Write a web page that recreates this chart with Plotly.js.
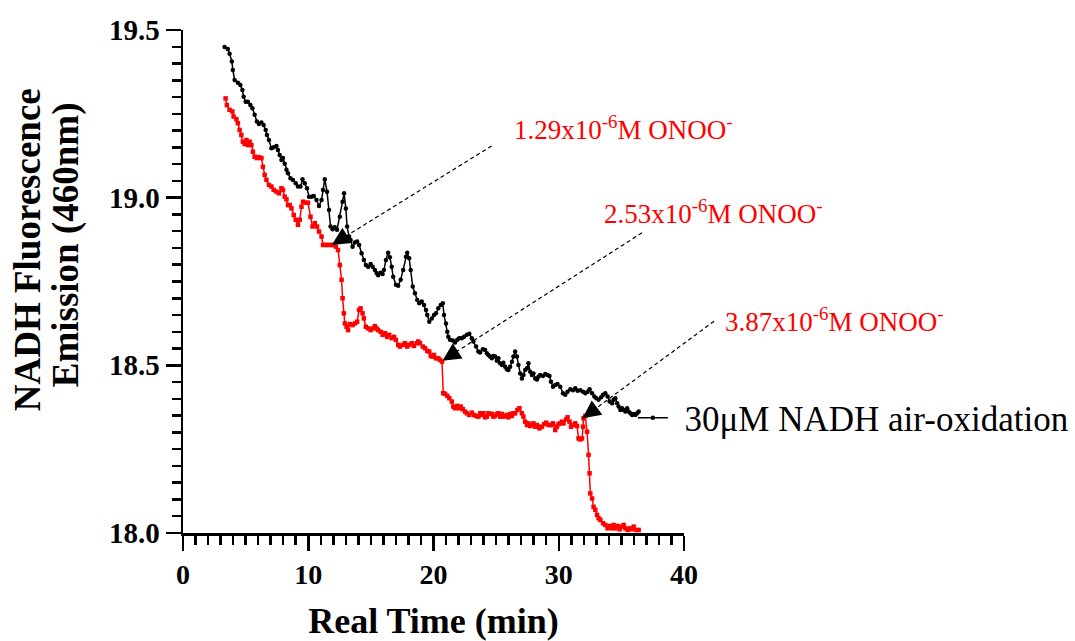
<!DOCTYPE html>
<html>
<head>
<meta charset="utf-8">
<script src="https://cdn.plot.ly/plotly-3.0.1.min.js"></script>
<style>html,body{margin:0;padding:0;background:#fff;}#chart{width:1075px;height:641px;}</style>
</head>
<body>
<div id="chart"></div>
<script>
// Time (min)
const blackX = [3.32,3.58,3.72,3.90,3.98,4.12,4.38,4.58,4.74,4.84,
5.00,5.18,5.38,5.54,5.72,5.90,6.06,6.26,6.44,6.60,
6.70,6.86,7.06,7.24,7.46,7.58,7.72,7.86,7.98,8.12,
8.26,8.38,8.58,8.78,9.00,9.18,9.38,9.54,9.72,9.90,
10.06,10.26,10.44,10.66,10.86,11.06,11.18,11.32,11.50,11.66,
11.78,11.94,12.12,12.30,12.52,12.74,12.86,13.00,13.10,13.26,
13.38,13.54,13.72,13.90,14.06,14.26,14.44,14.60,14.78,14.98,
15.14,15.32,15.46,15.58,15.78,15.94,16.04,16.20,16.38,16.52,
16.66,16.78,17.00,17.18,17.38,17.58,17.80,17.90,18.06,18.18,
18.34,18.52,18.70,18.86,19.06,19.24,19.40,19.50,19.66,19.86,
20.04,20.20,20.38,20.58,20.74,20.84,21.00,21.10,21.18,21.32,
21.54,21.72,21.90,22.06,22.26,22.44,22.66,22.86,23.06,23.18,
23.40,23.58,23.72,23.94,24.12,24.26,24.38,24.52,24.66,24.78,
24.92,25.06,25.18,25.32,25.46,25.58,25.72,25.86,25.98,26.12,
26.26,26.38,26.52,26.66,26.78,26.92,27.06,27.18,27.32,27.46,
27.58,27.72,27.86,27.98,28.12,28.26,28.38,28.52,28.74,28.92,
29.10,29.26,29.38,29.54,29.72,29.90,30.12,30.34,30.52,30.70,
30.92,31.14,31.32,31.50,31.72,31.94,32.12,32.30,32.46,32.66,
32.84,33.00,33.18,33.38,33.54,33.72,33.90,34.06,34.26,34.38,
34.52,34.66,34.78,34.92,35.06,35.18,35.32,35.46,35.58,35.72,
35.86,35.98,36.12,36.26,36.38];
// NADH air-oxidation fluorescence
const blackY = [19.449,19.443,19.429,19.406,19.381,19.351,19.343,19.336,19.321,19.301,
19.286,19.286,19.276,19.267,19.247,19.227,19.220,19.224,19.217,19.202,
19.187,19.172,19.147,19.150,19.154,19.142,19.127,19.112,19.118,19.101,
19.083,19.073,19.058,19.053,19.043,19.033,19.033,19.055,19.043,19.028,
19.003,19.003,19.005,18.993,18.975,18.993,19.023,19.055,19.018,18.963,
18.914,18.906,18.912,18.904,18.943,18.988,19.013,18.968,18.914,18.884,
18.874,18.854,18.866,18.869,18.859,18.834,18.814,18.799,18.794,18.802,
18.794,18.784,18.775,18.769,18.776,18.772,18.784,18.814,18.836,18.822,
18.794,18.764,18.740,18.737,18.755,18.784,18.824,18.836,18.819,18.784,
18.735,18.715,18.695,18.685,18.690,18.680,18.665,18.650,18.630,18.640,
18.650,18.655,18.670,18.680,18.685,18.650,18.625,18.600,18.585,18.576,
18.574,18.568,18.576,18.581,18.581,18.585,18.591,18.594,18.581,18.571,
18.556,18.541,18.538,18.548,18.546,18.536,18.531,18.526,18.521,18.528,
18.526,18.514,18.521,18.506,18.501,18.508,18.496,18.488,18.486,18.496,
18.511,18.526,18.541,18.526,18.501,18.476,18.461,18.471,18.486,18.491,
18.506,18.481,18.471,18.476,18.461,18.458,18.466,18.471,18.468,18.474,
18.471,18.468,18.451,18.436,18.441,18.444,18.436,18.417,18.412,18.421,
18.429,18.426,18.432,18.424,18.426,18.421,18.417,18.421,18.429,18.417,
18.407,18.402,18.397,18.405,18.412,18.417,18.407,18.392,18.387,18.397,
18.402,18.387,18.377,18.367,18.372,18.367,18.362,18.372,18.362,18.357,
18.352,18.355,18.352,18.357,18.362];
const redX = [3.40,3.50,3.72,3.94,4.04,4.26,4.38,4.52,4.66,4.78,
4.92,5.06,5.18,5.32,5.46,5.58,5.72,5.90,6.06,6.26,
6.38,6.52,6.66,6.86,7.06,7.24,7.46,7.66,7.86,7.98,
8.12,8.26,8.38,8.52,8.66,8.84,9.00,9.18,9.32,9.46,
9.58,9.80,9.98,10.18,10.34,10.52,10.70,10.86,11.06,11.18,
11.40,11.58,11.78,11.98,12.20,12.38,12.52,12.66,12.74,12.84,
12.92,13.06,13.18,13.32,13.54,13.72,13.90,14.06,14.18,14.34,
14.44,14.60,14.78,14.98,15.14,15.32,15.46,15.58,15.78,15.94,
16.12,16.30,16.46,16.66,16.84,17.00,17.18,17.32,17.54,17.72,
17.90,18.06,18.26,18.44,18.66,18.78,18.92,19.14,19.32,19.50,
19.66,19.78,19.94,20.04,20.20,20.38,20.52,20.68,20.78,20.92,
21.10,21.26,21.46,21.58,21.72,21.90,22.06,22.18,22.34,22.52,
22.66,22.86,23.06,23.24,23.40,23.58,23.72,23.86,23.98,24.12,
24.26,24.38,24.52,24.66,24.78,24.92,25.06,25.18,25.32,25.46,
25.58,25.72,25.86,25.98,26.12,26.26,26.38,26.52,26.70,26.86,
27.06,27.18,27.32,27.46,27.58,27.72,27.86,27.98,28.12,28.26,
28.38,28.46,28.66,28.84,29.00,29.18,29.38,29.54,29.72,29.86,
29.98,30.12,30.26,30.38,30.60,30.70,30.86,30.98,31.14,31.32,
31.46,31.58,31.72,31.86,31.94,31.98,32.12,32.26,32.38,32.46,
32.52,32.66,32.78,32.92,33.06,33.18,33.32,33.54,33.72,33.90,
34.06,34.26,34.38,34.52,34.70,34.86,35.06,35.18,35.32,35.50,
35.66,35.86,35.98,36.20,36.38];
// NADH + ONOO- additions
const redY = [19.296,19.276,19.262,19.257,19.242,19.234,19.222,19.202,19.187,19.167,
19.160,19.172,19.157,19.167,19.157,19.137,19.122,19.118,19.121,19.118,
19.092,19.068,19.053,19.038,19.033,19.023,19.018,19.013,19.028,19.023,
19.003,18.995,18.978,18.978,18.968,18.948,18.934,18.919,18.934,18.973,
18.988,18.985,18.985,18.943,18.914,18.924,18.914,18.899,18.884,18.859,
18.859,18.859,18.859,18.859,18.854,18.844,18.799,18.755,18.700,18.655,
18.625,18.615,18.605,18.623,18.620,18.625,18.630,18.665,18.670,18.655,
18.640,18.615,18.610,18.605,18.610,18.617,18.610,18.605,18.600,18.591,
18.596,18.585,18.591,18.581,18.585,18.576,18.561,18.556,18.561,18.566,
18.556,18.561,18.566,18.558,18.566,18.571,18.566,18.556,18.551,18.543,
18.541,18.528,18.526,18.531,18.521,18.521,18.516,18.511,18.417,18.415,
18.409,18.402,18.392,18.377,18.372,18.379,18.372,18.377,18.369,18.362,
18.357,18.352,18.359,18.352,18.349,18.347,18.357,18.352,18.357,18.345,
18.347,18.357,18.355,18.355,18.347,18.349,18.355,18.357,18.347,18.355,
18.347,18.349,18.352,18.345,18.355,18.349,18.357,18.357,18.367,18.372,
18.357,18.347,18.332,18.322,18.327,18.319,18.322,18.327,18.317,18.322,
18.317,18.312,18.317,18.325,18.329,18.322,18.322,18.327,18.307,18.317,
18.325,18.327,18.332,18.327,18.339,18.345,18.332,18.317,18.322,18.327,
18.319,18.282,18.279,18.282,18.317,18.342,18.349,18.302,18.233,18.178,
18.118,18.103,18.078,18.069,18.054,18.044,18.039,18.029,18.024,18.014,
18.021,18.014,18.024,18.014,18.021,18.011,18.019,18.024,18.014,18.009,
18.014,18.011,18.019,18.009,18.009];

// ONOO- additions: labels, arrow tip (time, signal), tail (time, signal)
const addLabels = ['1.29x10<sup>-6</sup>M ONOO<sup>-</sup>','2.53x10<sup>-6</sup>M ONOO<sup>-</sup>','3.87x10<sup>-6</sup>M ONOO<sup>-</sup>'];
const tipX = [11.88, 20.72, 31.90];
const tipY = [18.859, 18.514, 18.342];
const tailX = [24.76, 36.76, 42.52];
const tailY = [19.157, 18.898, 18.635];
const labelPX = [0.657, 0.836, 1.078];
const labelPY = [0.805, 0.638, 0.4235];

const FONT = 'Liberation Serif, Times New Roman, serif';

const traces = [
  {x: blackX, y: blackY, type:'scatter', mode:'lines+markers', name:'\u00a0\u200a30μM NADH air-oxidation',
   line:{color:'#000000', width:1.5}, marker:{symbol:'circle', size:4.5, color:'#000000'}, cliponaxis:false},
  {x: redX, y: redY, type:'scatter', mode:'lines+markers', name:'ONOO- additions', showlegend:false,
   line:{color:'#ff0000', width:1.5}, marker:{symbol:'square', size:4.5, color:'#ff0000'}, cliponaxis:false}
];

const annotations = [];
for (let i = 0; i < addLabels.length; i++) {
  annotations.push({xref:'x', yref:'y', axref:'x', ayref:'y', x: tipX[i], y: tipY[i], ax: tailX[i], ay: tailY[i],
    text:'', showarrow:true, arrowhead:2, arrowsize:3.0, arrowwidth:1.2, arrowcolor:'#000000', font:{size:2}});
  annotations.push({xref:'paper', yref:'paper', x: labelPX[i], y: labelPY[i], xanchor:'left', yanchor:'middle',
    text: addLabels[i], showarrow:false, font:{family:FONT, size:27, color:'#ff0000'}});
}
annotations.push({xref:'paper', yref:'paper', x:-0.311, y:0.5626, xanchor:'center', yanchor:'middle', textangle:-90,
  text:'NADH Fluorescence', showarrow:false, font:{family:FONT, size:37, weight:'bold', color:'#000'}});
annotations.push({xref:'paper', yref:'paper', x:-0.233, y:0.5726, xanchor:'center', yanchor:'middle', textangle:-90,
  text:'Emission (460nm)', showarrow:false, font:{family:FONT, size:37, weight:'bold', color:'#000'}});

const layout = {
  width:1075, height:641,
  margin:{l:183, r:391, t:30, b:108, pad:0, autoexpand:false},
  paper_bgcolor:'#ffffff', plot_bgcolor:'#ffffff',
  font:{family:FONT, color:'#000000'},
  showlegend:true,
  legend:{x:0.898, y:0.2286, xanchor:'left', yanchor:'middle', bgcolor:'rgba(0,0,0,0)', borderwidth:0,
          font:{family:FONT, size:35, color:'#000'}},
  xaxis:{range:[0,40], tick0:0, dtick:10, ticks:'outside', ticklen:15, tickwidth:2.5, tickcolor:'#000',
         showline:true, linewidth:2.5, linecolor:'#000', showgrid:false, zeroline:false, automargin:false,
         tickfont:{family:FONT, size:28, weight:'bold', color:'#000'},
         minor:{tick0:0, dtick:1, ticks:'outside', ticklen:9, tickwidth:2.5, tickcolor:'#000', showgrid:false},
         title:{text:'Real Time (min)', font:{family:FONT, size:36, weight:'bold', color:'#000'}}},
  yaxis:{range:[18,19.5], tick0:18, dtick:0.5, tickformat:'.1f', ticks:'outside', ticklen:15, tickwidth:2.5, tickcolor:'#000',
         showline:true, linewidth:2.5, linecolor:'#000', showgrid:false, zeroline:false, automargin:false,
         tickfont:{family:FONT, size:29, weight:'bold', color:'#000'},
         minor:{tick0:18, dtick:0.05, ticks:'outside', ticklen:9, tickwidth:2.5, tickcolor:'#000', showgrid:false}},
  annotations: annotations
};

Plotly.newPlot('chart', traces, layout, {displayModeBar:false, staticPlot:true}).then(function(gd){
  gd.querySelectorAll('.annotation-arrow-g path').forEach(function(p){ p.style.strokeDasharray = '4,3'; });
});
</script>
</body>
</html>
